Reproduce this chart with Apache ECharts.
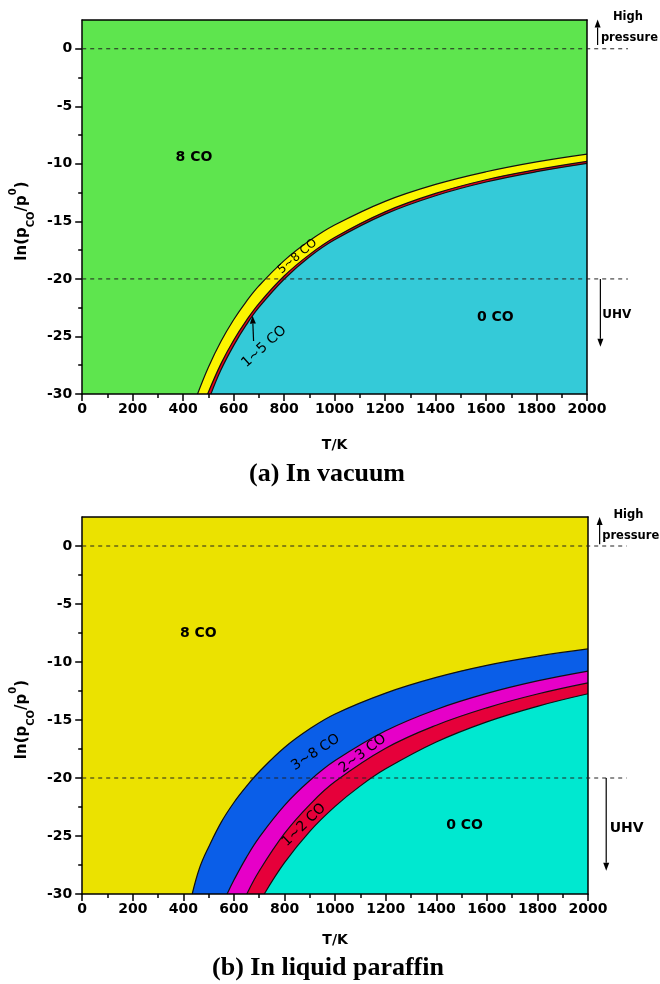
<!DOCTYPE html>
<html>
<head>
<meta charset="utf-8">
<script src="https://cdn.jsdelivr.net/npm/echarts@6/dist/echarts.min.js"></script>
<style>
  html, body { margin: 0; padding: 0; background: #fff; }
  #chart { width: 660px; height: 984px; }
</style>
</head>
<body>
<div id="chart"></div>
<script>
// y ticks: ln(pCO/p0)
var yTicks = [-30, -25, -20, -15, -10, -5, 0];
var yMinorTicks = [-27.5, -22.5, -17.5, -12.5, -7.5, -2.5];

// (a) in vacuum - phase boundaries, [T/K, ln(pCO/p0)]
var vac8to58 = [[457,-30.0],[500,-27.67],[550,-25.42],[600,-23.55],[650,-21.97],[700,-20.61],[800,-18.41],[900,-16.69],[1000,-15.32],[1200,-13.26],[1400,-11.79],[1600,-10.69],[1800,-9.83],[2000,-9.15]];
var vac58to15 = [[497,-30.0],[550,-27.36],[600,-25.33],[650,-23.62],[700,-22.14],[800,-19.75],[900,-17.89],[1000,-16.40],[1200,-14.17],[1400,-12.57],[1600,-11.38],[1800,-10.50],[2000,-9.78]];
var vac15to0 = [[510,-30.0],[550,-27.9],[600,-25.8],[650,-24.0],[700,-22.48],[800,-20.03],[900,-18.10],[1000,-16.60],[1200,-14.37],[1400,-12.77],[1600,-11.58],[1800,-10.68],[2000,-9.96]];

// (b) in liquid paraffin
var par8to38 = [[435,-30.0],[465,-27.7],[500,-25.95],[550,-23.8],[600,-22.11],[650,-20.70],[700,-19.46],[800,-17.37],[900,-15.76],[1000,-14.48],[1200,-12.68],[1400,-11.33],[1600,-10.29],[1800,-9.50],[2000,-8.87]];
var par38to23 = [[573,-30.0],[600,-28.80],[650,-26.82],[700,-25.12],[800,-22.36],[900,-20.22],[1000,-18.50],[1200,-15.93],[1400,-14.09],[1600,-12.71],[1800,-11.63],[2000,-10.78]];
var par23to12 = [[651,-30.0],[700,-28.02],[800,-24.78],[900,-22.29],[1000,-20.31],[1200,-17.44],[1400,-15.45],[1600,-13.95],[1800,-12.76],[2000,-11.80]];
var par12to0 = [[720,-30.0],[800,-27.30],[900,-24.60],[1000,-22.45],[1100,-20.68],[1200,-19.21],[1400,-16.90],[1600,-15.16],[1800,-13.82],[2000,-12.74]];

var FONT = '"DejaVu Sans"';
var chart = echarts.init(document.getElementById('chart'));

function xAxes(gi, gap) {
  return [{
    gridIndex: gi, type: 'value', min: 0, max: 2000, interval: 200, position: 'bottom',
    name: 'T/K', nameLocation: 'middle', nameGap: gap,
    nameTextStyle: { fontFamily: 'DejaVu Sans', fontWeight: 'bold', fontSize: 14, color: '#000' },
    axisLine: { onZero: false, lineStyle: { color: '#000', width: 1.5 } },
    axisTick: { length: 7, lineStyle: { color: '#000', width: 1.5 } },
    minorTick: { show: true, splitNumber: 2, length: 4, lineStyle: { color: '#000', width: 1.5 } },
    axisLabel: { fontFamily: 'DejaVu Sans', fontWeight: 'bold', fontSize: 14, color: '#000', margin: 8,
      formatter: function (v) { return String(v); } },
    splitLine: { show: false }, minorSplitLine: { show: false }, z: 10
  }, {
    gridIndex: gi, type: 'value', min: 0, max: 2000, position: 'top',
    axisLine: { onZero: false, lineStyle: { color: '#000', width: 1.5 } },
    axisTick: { show: false }, axisLabel: { show: false }, splitLine: { show: false }, z: 10
  }];
}

function yAxes(gi, gap) {
  var sty = { fontFamily: 'DejaVu Sans', fontWeight: 'bold', color: '#000' };
  return [{
    gridIndex: gi, type: 'value', min: -30, max: 2.5, position: 'left',
    name: '{b|ln(p}{s|CO}{b|/p}{u|0}{b|)}', nameLocation: 'middle', nameRotate: 90, nameGap: gap,
    nameTextStyle: {
      padding: [0, 28, 0, 0],
      rich: {
        b: Object.assign({ fontSize: 15, lineHeight: 22 }, sty),
        s: Object.assign({ fontSize: 10, lineHeight: 22, verticalAlign: 'bottom', padding: [0, 0, -3, 0] }, sty),
        u: Object.assign({ fontSize: 10, lineHeight: 22, verticalAlign: 'top', padding: [-3, 0, 0, 0] }, sty)
      }
    },
    axisLine: { onZero: false, lineStyle: { color: '#000', width: 1.5 } },
    axisTick: { length: 7, customValues: yTicks, lineStyle: { color: '#000', width: 1.5 } },
    axisLabel: { customValues: yTicks, fontFamily: 'DejaVu Sans', fontWeight: 'bold', fontSize: 14, color: '#000', margin: 10 },
    splitLine: { show: false }, z: 10
  }, {
    gridIndex: gi, type: 'value', min: -30, max: 2.5, position: 'left',
    axisLine: { show: false },
    axisTick: { length: 4, customValues: yMinorTicks, lineStyle: { color: '#000', width: 1.5 } },
    axisLabel: { show: false }, splitLine: { show: false }, z: 10
  }, {
    gridIndex: gi, type: 'value', min: -30, max: 2.5, position: 'right',
    axisLine: { onZero: false, lineStyle: { color: '#000', width: 1.5 } },
    axisTick: { show: false }, axisLabel: { show: false }, splitLine: { show: false }, z: 10
  }];
}

function region(gi, data, color) {
  return {
    type: 'line', xAxisIndex: gi * 2, yAxisIndex: gi * 3, data: data,
    smooth: 0.4, symbol: 'none', silent: true,
    lineStyle: { color: '#111', width: 1.2 },
    areaStyle: { color: color, opacity: 1, origin: 'start' }
  };
}

chart.setOption({
  animation: false,
  grid: [
    { left: 81, top: 20, width: 506, height: 374, show: true, backgroundColor: '#5ee54e', borderWidth: 0 },
    { left: 78, top: 517, width: 510, height: 377, show: true, backgroundColor: '#ebe200', borderWidth: 0 }
  ],
  xAxis: xAxes(0, 44).concat(xAxes(1, 39)),
  yAxis: yAxes(0, 45).concat(yAxes(1, 48)),
  series: [
    region(0, vac8to58, '#fcf500'),
    region(0, vac58to15, '#e8001c'),
    region(0, vac15to0, '#34cad8'),
    region(1, par8to38, '#0a5ee8'),
    region(1, par38to23, '#e600c8'),
    region(1, par23to12, '#e6003a'),
    region(1, par12to0, '#00e8d0')
  ]
});

// annotations in data coords: panel, text, T, lnp, size, bold, angle(deg)
var notes = [
  [0, '8 CO', 443, -9.4, 14, true, 0],
  [0, '0 CO', 1637, -23.3, 14, true, 0],
  [0, '5~8 CO', 853, -18.05, 12, false, 40],
  [0, '1~5 CO', 721, -25.9, 14, false, 42],
  [0, 'High', 2162, 2.8, 11.5, true, 0],
  [0, 'pressure', 2168, 0.9, 11.5, true, 0],
  [0, 'UHV', 2118, -23.1, 12, true, 0],
  [1, '8 CO', 459, -7.56, 14, true, 0],
  [1, '0 CO', 1512, -24.1, 14, true, 0],
  [1, '3~8 CO', 923, -17.8, 14, false, 33],
  [1, '2~3 CO', 1109, -17.9, 14, false, 37],
  [1, '1~2 CO', 877, -24.05, 14, false, 44],
  [1, 'High', 2160, 2.7, 11.5, true, 0],
  [1, 'pressure', 2169, 0.86, 11.5, true, 0],
  [1, 'UHV', 2153, -24.3, 14, true, 0]
];
var arrows = [
  [0, [2042, 0.32], [2042, 2.55]],
  [0, [2053, -20], [2053, -25.9]],
  [0, [679, -25.4], [675, -23.2]],
  [1, [2046, 0.15], [2046, 2.5]],
  [1, [2072, -20], [2072, -28]]
];
var dashes = [[0, 0, 2162], [0, -20, 2162], [1, 0, 2153], [1, -20, 2153]];

function px(gi, p) {
  return chart.convertToPixel({ xAxisIndex: gi * 2, yAxisIndex: gi * 3 }, p);
}

var els = [];
dashes.forEach(function (d) {
  var a = px(d[0], [0, d[1]]), b = px(d[0], [d[2], d[1]]);
  els.push({ type: 'line', z: 100, silent: true,
    shape: { x1: a[0], y1: a[1], x2: b[0], y2: b[1] },
    style: { stroke: '#222', lineWidth: 1, lineDash: [4, 4] } });
});
arrows.forEach(function (r) {
  var a = px(r[0], r[1]), b = px(r[0], r[2]);
  var dx = b[0] - a[0], dy = b[1] - a[1], L = Math.sqrt(dx * dx + dy * dy);
  var ux = dx / L, uy = dy / L, hl = 8, hw = 3;
  var bx = b[0] - ux * hl, by = b[1] - uy * hl;
  els.push({ type: 'line', z: 100, silent: true,
    shape: { x1: a[0], y1: a[1], x2: bx, y2: by },
    style: { stroke: '#000', lineWidth: 1.2 } });
  els.push({ type: 'polygon', z: 100, silent: true,
    shape: { points: [[b[0], b[1]], [bx - uy * hw, by + ux * hw], [bx + uy * hw, by - ux * hw]] },
    style: { fill: '#000' } });
});
notes.forEach(function (n) {
  var p = px(n[0], [n[2], n[3]]);
  els.push({ type: 'text', z: 101, silent: true, x: p[0], y: p[1], rotation: n[6] * Math.PI / 180,
    style: { text: n[1], fill: '#000', align: 'center', verticalAlign: 'middle',
      font: (n[5] ? 'bold ' : '') + n[4] + 'px ' + FONT } });
});
els.push({ type: 'text', z: 101, x: 327, y: 474,
  style: { text: '(a) In vacuum', fill: '#000', align: 'center', verticalAlign: 'middle', font: 'bold 26px "Liberation Serif"' } });
els.push({ type: 'text', z: 101, x: 328, y: 968,
  style: { text: '(b) In liquid paraffin', fill: '#000', align: 'center', verticalAlign: 'middle', font: 'bold 26px "Liberation Serif"' } });

chart.setOption({ graphic: { elements: els } });
</script>
</body>
</html>
